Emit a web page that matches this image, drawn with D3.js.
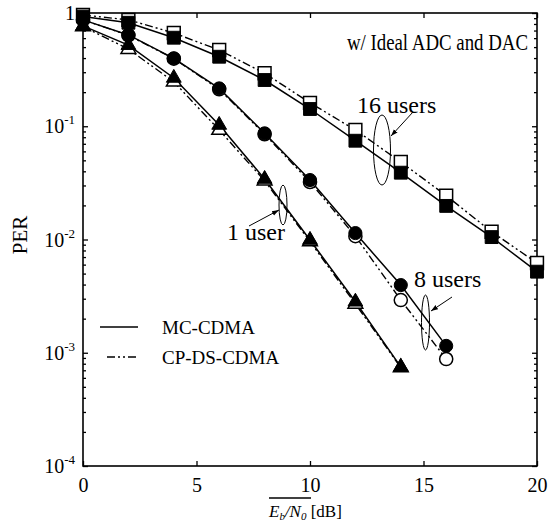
<!DOCTYPE html>
<html><head><meta charset="utf-8">
<script src="https://cdn.jsdelivr.net/npm/d3@7"></script>
<style>body{margin:0;background:#fff}svg{display:block}</style>
</head><body>
<svg id="c" width="550" height="522"></svg>
<script>
// ---- data ----
const x16 = [0,2,4,6,8,10,12,14,16,18,20];
const mc16 = [0.93,0.82,0.605,0.411,0.256,0.142,0.0745,0.0389,0.0198,0.0105,0.0052];
const cp16 = [0.96,0.87,0.666,0.471,0.294,0.161,0.0927,0.0483,0.0244,0.0117,0.0062];
const x8 = [0,2,4,6,8,10,12,14,16];
const mc8 = [0.87,0.64,0.398,0.216,0.0866,0.0335,0.0114,0.00396,0.00115];
const cp8 = [0.87,0.635,0.395,0.212,0.085,0.0322,0.0107,0.00292,0.00088];
const x1 = [0,2,4,6,8,10,12,14];
const mc1 = [0.77,0.52,0.267,0.1026,0.0342,0.0099,0.00282,0.00075];
const cp1 = [0.76,0.48,0.247,0.0927,0.033,0.0096,0.0027,0.00074];
const xTicks = [0,5,10,15,20];
const yExps = [0,-1,-2,-3,-4];
const legendLabels = ["MC-CDMA","CP-DS-CDMA"];

const svg = d3.select("#c");
const L=83, R=537, T=13, B=466;
const x = d3.scaleLinear().domain([0,20]).range([L,R]);
const y = d3.scaleLog().domain([1e-4,1]).range([B,T]);
const FONT = "'Liberation Serif','Times New Roman',serif";
const DASH = "8,3,2,3,2,3";

// frame
svg.append("rect").attr("x",L).attr("y",T).attr("width",R-L).attr("height",B-T)
  .attr("fill","none").attr("stroke","#000").attr("stroke-width",1.6);

// axes ticks
const gx = svg.append("g").attr("transform",`translate(0,${B})`)
  .call(d3.axisBottom(x).tickValues(xTicks).tickSize(-5).tickPadding(12).tickFormat(d3.format("d")));
const gxt = svg.append("g").attr("transform",`translate(0,${T})`)
  .call(d3.axisTop(x).tickValues(xTicks).tickSize(-5).tickFormat(""));
const minorVals = [];
for (let e=-4;e<0;e++) for (let m=2;m<=9;m++) minorVals.push(m*Math.pow(10,e));
const majorVals = yExps.map(e=>Math.pow(10,e));
const gyl = svg.append("g").attr("transform",`translate(${L},0)`)
  .call(d3.axisLeft(y).tickValues(majorVals).tickSize(-5).tickFormat(""));
const gylm = svg.append("g").attr("transform",`translate(${L},0)`)
  .call(d3.axisLeft(y).tickValues(minorVals).tickSize(-3).tickFormat(""));
const gyr = svg.append("g").attr("transform",`translate(${R},0)`)
  .call(d3.axisRight(y).tickValues(majorVals).tickSize(-5).tickFormat(""));
const gyrm = svg.append("g").attr("transform",`translate(${R},0)`)
  .call(d3.axisRight(y).tickValues(minorVals).tickSize(-3).tickFormat(""));
[gx,gxt,gyl,gylm,gyr,gyrm].forEach(g=>{
  g.select(".domain").remove();
  g.selectAll(".tick line").attr("stroke","#000").attr("stroke-width",1.3);
});
gx.selectAll(".tick text").attr("font-family",FONT).attr("font-size",20).attr("fill","#000");

// y tick labels
yExps.forEach(e=>{
  const t = svg.append("text").attr("font-family",FONT).attr("font-size",20)
    .attr("text-anchor","end").attr("x",75).attr("y",y(Math.pow(10,e))+7);
  if (e===0) { t.text("1"); }
  else {
    t.append("tspan").text("10");
    t.append("tspan").attr("font-size",13).attr("dy",-9).text(String(e));
  }
});

// axis labels
svg.append("text").attr("font-family",FONT).attr("font-size",21)
  .attr("transform","translate(27,235) rotate(-90)").attr("text-anchor","middle").text("PER");
const xl = svg.append("text").attr("font-family",FONT).attr("font-size",17).attr("x",269).attr("y",517);
xl.append("tspan").attr("font-style","italic").text("E");
xl.append("tspan").attr("font-style","italic").attr("font-size",11).attr("dy",3).text("b");
xl.append("tspan").attr("font-style","italic").attr("dy",-3).text("/N");
xl.append("tspan").attr("font-style","italic").attr("font-size",11).attr("dy",3).text("0");
xl.append("tspan").attr("dy",-3).text(" [dB]");
svg.append("line").attr("x1",269).attr("x2",311).attr("y1",498).attr("y2",498)
  .attr("stroke","#000").attr("stroke-width",1.3);

// lines
const line = (xs)=>d3.line().x((d,i)=>x(xs[i])).y(d=>y(d));
const series = [
  {xs:x16, mc:mc16, cp:cp16, sym:d3.symbolSquare, size:165},
  {xs:x8, mc:mc8, cp:cp8, sym:d3.symbolCircle, size:135},
  {xs:x1, mc:mc1, cp:cp1, sym:d3.symbolTriangle, size:95}
];
series.forEach(s=>{
  svg.append("path").attr("d",line(s.xs)(s.cp)).attr("fill","none")
    .attr("stroke","#000").attr("stroke-width",1.4).attr("stroke-dasharray",DASH);
  svg.append("path").attr("d",line(s.xs)(s.mc)).attr("fill","none")
    .attr("stroke","#000").attr("stroke-width",1.5);
});
series.forEach(s=>{
  const sym = d3.symbol().type(s.sym).size(s.size);
  svg.append("g").selectAll("path").data(s.cp).join("path")
    .attr("d",sym).attr("transform",(d,i)=>`translate(${x(s.xs[i])},${y(d)})`)
    .attr("fill","#fff").attr("stroke","#000").attr("stroke-width",1.5);
});
series.forEach(s=>{
  const sym = d3.symbol().type(s.sym).size(s.size);
  svg.append("g").selectAll("path").data(s.mc).join("path")
    .attr("d",sym).attr("transform",(d,i)=>`translate(${x(s.xs[i])},${y(d)})`)
    .attr("fill","#000").attr("stroke","#000").attr("stroke-width",1);
});

// annotations
svg.append("defs").append("marker").attr("id","ah").attr("viewBox","0 0 10 10")
  .attr("refX",10).attr("refY",5).attr("markerWidth",7).attr("markerHeight",7)
  .attr("markerUnits","userSpaceOnUse").attr("orient","auto")
  .append("path").attr("d","M0,1.5 L10,5 L0,8.5 Z").attr("fill","#000");
svg.append("text").attr("font-family",FONT).attr("font-size",23)
  .attr("transform","translate(528,50) scale(0.82,1)").attr("text-anchor","end")
  .text("w/ Ideal ADC and DAC");
const ann = [
  {t:"16 users", tx:357, ty:113, cx:382, cy:150, rx:8.5, ry:35, ax1:413, ay1:112, ax2:391, ay2:136},
  {t:"8 users", tx:414, ty:287, cx:425.5, cy:322.5, rx:4, ry:27.5, ax1:452, ay1:297, ax2:431, ay2:311},
  {t:"1 user", tx:227, ty:240, cx:283, cy:205, rx:4, ry:20, ax1:249, ay1:226, ax2:279, ay2:210}
];
ann.forEach(a=>{
  svg.append("text").attr("font-family",FONT).attr("font-size",24).attr("x",a.tx).attr("y",a.ty).text(a.t);
  svg.append("ellipse").attr("cx",a.cx).attr("cy",a.cy).attr("rx",a.rx).attr("ry",a.ry)
    .attr("fill","none").attr("stroke","#000").attr("stroke-width",1);
  svg.append("line").attr("x1",a.ax1).attr("y1",a.ay1).attr("x2",a.ax2).attr("y2",a.ay2)
    .attr("stroke","#000").attr("stroke-width",1).attr("marker-end","url(#ah)");
});

// legend
const lg = [{y:327, dash:null, x1:100}, {y:357, dash:DASH, x1:107}];
lg.forEach((l,i)=>{
  svg.append("line").attr("x1",l.x1).attr("x2",138).attr("y1",l.y).attr("y2",l.y)
    .attr("stroke","#000").attr("stroke-width",1.5).attr("stroke-dasharray",l.dash);
  svg.append("text").attr("font-family",FONT).attr("font-size",19).attr("x",162).attr("y",l.y+7)
    .text(legendLabels[i]);
});
</script>
</body></html>
